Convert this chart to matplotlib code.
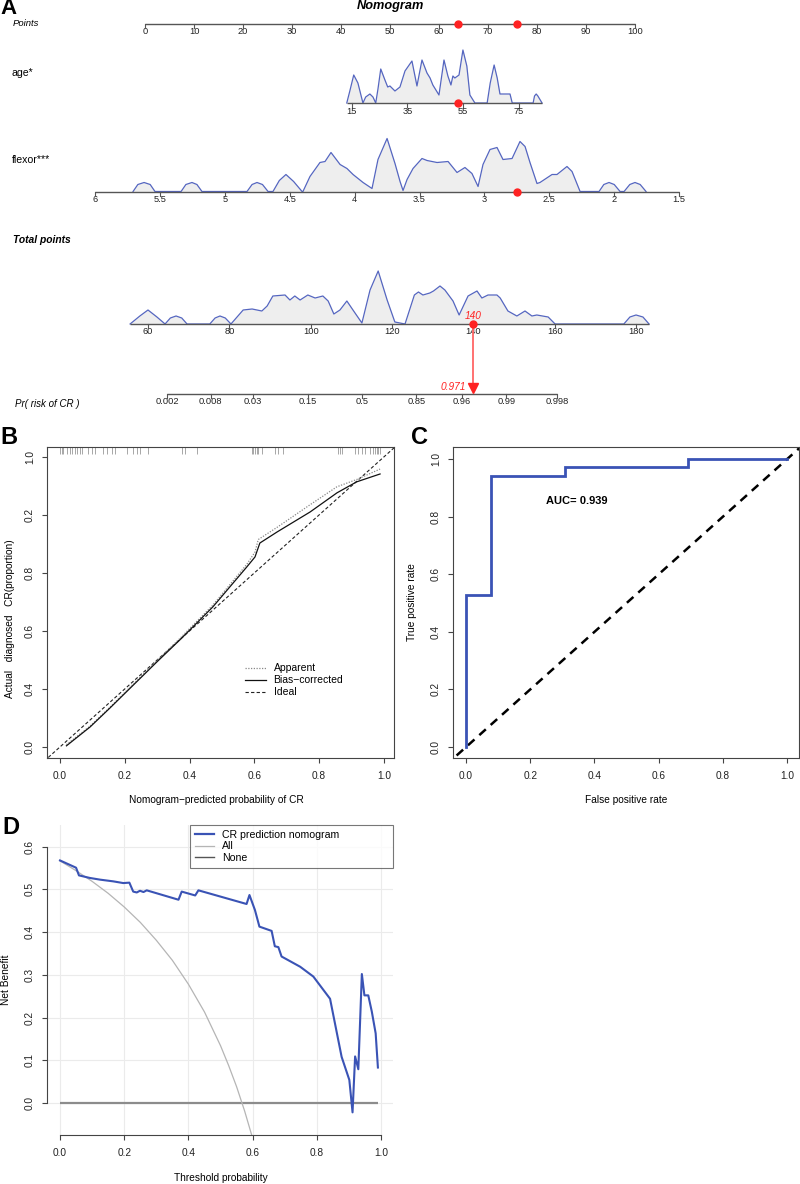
import numpy as np
import matplotlib.pyplot as plt
from matplotlib.lines import Line2D

plt.rcParams['font.family'] = ['Liberation Sans', 'DejaVu Sans']

W, H = 800, 1184

# ---------------- Panel A: nomogram data ----------------
points_ticks = list(range(0, 101, 10))
age_ticks = [15, 35, 55, 75]
flexor_ticks = [6, 5.5, 5, 4.5, 4, 3.5, 3, 2.5, 2, 1.5]
total_ticks = [60, 80, 100, 120, 140, 160, 180]
prob_ticks = [0.002, 0.008, 0.03, 0.15, 0.5, 0.85, 0.96, 0.99, 0.998]

case_age = 53
case_flexor = 2.75
case_total = 140
case_prob = 0.971

# density traces (value, relative height)
age_dens_x = [13.2, 14.3, 15.7, 17.2, 19.0, 20.0, 21.5, 22.6, 23.6, 24.4, 25.4, 26.9,
              27.9, 28.7, 30.5, 32.3, 34.1, 36.6, 38.4, 40.2, 42.0, 43.1, 44.1, 46.3,
              48.1, 49.5, 50.6, 51.3, 52.0, 53.5, 54.9, 56.3, 57.4, 59.2, 63.6, 64.7,
              66.1, 67.2, 68.2, 71.8, 72.6, 80.1, 80.6, 81.2, 81.8, 83.3]
age_dens_h = [0, 12, 28, 20, 0, 6, 9, 6, 0, 14, 34, 23,
              16, 17, 12, 16, 32, 42, 17, 43, 30, 25, 18, 8,
              43, 27, 18, 27, 25, 28, 53, 37, 8, 0, 0, 20,
              38, 25, 9, 9, 0, 0, 7, 9, 7, 0]

flexor_dens_x = [5.707, 5.67, 5.622, 5.575, 5.538,
                 5.337, 5.30, 5.253, 5.215, 5.176,
                 4.829, 4.79, 4.752, 4.71, 4.667,
                 4.629, 4.58, 4.529, 4.47, 4.405,
                 4.398, 4.344, 4.267, 4.228, 4.182, 4.112, 4.059, 4.012, 3.935, 3.866,
                 3.82, 3.75, 3.689, 3.65, 3.627, 3.596, 3.55, 3.481, 3.442, 3.365,
                 3.28, 3.211, 3.15, 3.096, 3.049, 3.011, 2.957, 2.903, 2.857, 2.787,
                 2.726, 2.687, 2.649, 2.595, 2.572, 2.479, 2.441, 2.364, 2.325, 2.263,
                 2.117, 2.08, 2.040, 2.00, 1.955,
                 1.924, 1.88, 1.840, 1.80, 1.755]
flexor_dens_h = [0, 7, 9, 7, 0,
                 0, 7, 9, 7, 0,
                 0, 7, 9, 7, 0,
                 0, 11, 17, 10, 0,
                 0, 15, 29, 30, 39, 27, 23, 17, 9, 3,
                 32, 53, 28, 10, 1, 12, 23, 33, 31, 29,
                 30, 19, 24, 18, 5, 27, 42, 44, 32, 33,
                 50, 45, 29, 8, 9, 17, 17, 25, 20, 0,
                 0, 7, 9, 7, 0,
                 0, 7, 9, 7, 0]

total_dens_x = [55.6, 58.0, 60.0, 62.2, 64.2, 65.5, 66.9, 68.3, 69.6, 75.2, 76.5, 77.7,
                79.0, 80.4, 83.4, 85.6, 88.0, 89.3, 90.7, 93.7, 94.9, 96.1, 97.4, 99.3,
                101.1, 103.0, 104.3, 105.7, 107.2, 108.9, 110.4, 112.6, 114.6, 116.6,
                118.8, 120.7, 123.2, 125.5, 126.5, 127.6, 129.3, 130.2, 131.8, 133.0,
                135.0, 136.5, 138.7, 140.9, 142.1, 143.6, 145.8, 146.6, 148.5, 150.7,
                152.7, 154.4, 155.6, 158.4, 160.1, 177.0, 178.5, 180.0, 181.7, 183.2]
total_dens_h = [0, 8, 14, 7, 0, 6, 8, 6, 0, 0, 6, 8,
                6, 0, 14, 15, 13, 18, 28, 29, 24, 28, 24, 29,
                26, 28, 23, 10, 14, 23, 14, 1, 34, 53,
                24, 2, 0, 29, 32, 29, 31, 33, 38, 34,
                23, 9, 28, 33, 26, 29, 29, 26, 13, 8,
                13, 8, 9, 7, 0, 0, 7, 9, 7, 0]

# ---------------- Panel B: calibration ----------------
calib_x_bias = [0.02, 0.093, 0.154, 0.299, 0.37, 0.472, 0.577, 0.602, 0.617, 0.67, 0.772, 0.855, 0.916, 0.988]
calib_y_bias = [0.004, 0.069, 0.134, 0.293, 0.369, 0.483, 0.621, 0.655, 0.703, 0.741, 0.81, 0.876, 0.914, 0.941]
calib_x_app = [0.02, 0.093, 0.154, 0.299, 0.37, 0.472, 0.577, 0.602, 0.612, 0.67, 0.772, 0.855, 0.916, 0.988]
calib_y_app = [0.008, 0.072, 0.137, 0.297, 0.374, 0.489, 0.63, 0.672, 0.715, 0.757, 0.835, 0.897, 0.922, 0.958]
rug_x = [0, .006, .009, .022, .031, .037, .046, .052, .062, .068, .086, .099, .108, .133,
         .145, .160, .170, .207, .225, .238, .247, .272, .377, .386, .423, .593, .596,
         .602, .608, .611, .623, .664, .673, .688, .858, .864, .870, .910, .920, .932,
         .941, .957, .966, .972, .978, .981, .988]

# ---------------- Panel C: ROC ----------------
roc_fpr = [0, 0, 0.077, 0.077, 0.308, 0.308, 0.692, 0.692, 1.0]
roc_tpr = [0, 0.529, 0.529, 0.941, 0.941, 0.971, 0.971, 1.0, 1.0]
auc = 0.939

# ---------------- Panel D: decision curve ----------------
dca_t = [0.0, 0.05, 0.059, 0.093, 0.125, 0.166, 0.197, 0.216, 0.228, 0.239, 0.249, 0.26,
         0.27, 0.369, 0.379, 0.421, 0.431, 0.581, 0.59, 0.607, 0.621, 0.659, 0.669, 0.68,
         0.69, 0.748, 0.789, 0.841, 0.877, 0.901, 0.911, 0.919, 0.929, 0.94, 0.948, 0.96,
         0.971, 0.983, 0.99]
dca_model = [0.568, 0.551, 0.533, 0.527, 0.523, 0.519, 0.515, 0.516, 0.495, 0.493, 0.497, 0.494,
             0.498, 0.476, 0.495, 0.486, 0.498, 0.466, 0.487, 0.452, 0.413, 0.403, 0.367, 0.365,
             0.343, 0.319, 0.296, 0.244, 0.108, 0.054, -0.022, 0.109, 0.079, 0.302, 0.252, 0.252,
             0.214, 0.163, 0.083]
dca_all_t = [0.0, 0.05, 0.1, 0.15, 0.2, 0.25, 0.3, 0.35, 0.4, 0.45, 0.5, 0.525, 0.55, 0.575, 0.6]
dca_all = [0.567, 0.544, 0.519, 0.491, 0.459, 0.423, 0.381, 0.334, 0.278, 0.213, 0.134, 0.088,
           0.038, -0.019, -0.083]
dca_none_t = [0.0, 0.99]
dca_none = [0.0, 0.0]

# ---------------- nomogram scale transforms (to points axis) ----------------
def age_pos(a):
    return 42.2 + (np.asarray(a, float) - 15) * 0.5685

def flexor_pos(f):
    return -10.2 + (6 - np.asarray(f, float)) * 26.49

def total_pos(t):
    return 0.61 + (np.asarray(t, float) - 60) * 0.830

def prob_pos(p):
    p = np.asarray(p, float)
    return 44.29 + np.log(p / (1 - p)) * 6.408

def fmt(v):
    return ('%g' % v)

fig = plt.figure(figsize=(W / 100, H / 100), dpi=100)

axA = fig.add_axes([0, 1 - 410 / H, 1, 410 / H])
axA.set_xlim(-145 / 4.9, (W - 145) / 4.9)
axA.set_ylim(410, 0)
axA.axis('off')

AXC = '#555555'
DENS_LINE = '#5566C0'
RED = '#FF2222'
TK = 6.7

row_y = {'points': 24, 'age': 103, 'flexor': 191.5, 'total': 324, 'prob': 394}


def scale(ax, y, vals, pos_fn, labels, lo=None, hi=None):
    xs = pos_fn(vals)
    a = xs.min() if lo is None else lo
    b = xs.max() if hi is None else hi
    ax.plot([a, b], [y, y], color=AXC, lw=1.0, solid_capstyle='butt', zorder=4)
    for x, lab in zip(xs, labels):
        ax.plot([x, x], [y, y + 4], color=AXC, lw=0.8, zorder=4)
        ax.text(x, y + 3.5, lab, ha='center', va='top', fontsize=TK, color='#222222')


def density(ax, y, xs, hs, pos_fn):
    px = pos_fn(xs)
    top = y - np.asarray(hs, float)
    ax.fill_between(px, top, y, color='#EEEEEE', lw=0, zorder=2)
    ax.plot(px, top, color=DENS_LINE, lw=0.9, zorder=3, solid_joinstyle='round')


# Points
scale(axA, row_y['points'], points_ticks, lambda v: np.asarray(v, float),
      [str(v) for v in points_ticks])
# age
density(axA, row_y['age'], age_dens_x, age_dens_h, age_pos)
scale(axA, row_y['age'], age_ticks, age_pos, [str(v) for v in age_ticks],
      lo=age_pos(min(age_dens_x)), hi=age_pos(max(age_dens_x)))
# flexor
density(axA, row_y['flexor'], flexor_dens_x, flexor_dens_h, flexor_pos)
scale(axA, row_y['flexor'], flexor_ticks, flexor_pos, [fmt(v) for v in flexor_ticks])
# total points
density(axA, row_y['total'], total_dens_x, total_dens_h, total_pos)
scale(axA, row_y['total'], total_ticks, total_pos, [str(v) for v in total_ticks],
      lo=total_pos(min(total_dens_x)), hi=total_pos(max(total_dens_x)))
# probability
scale(axA, row_y['prob'], prob_ticks, prob_pos, [fmt(v) for v in prob_ticks])

# case markers
axA.plot([age_pos(case_age), flexor_pos(case_flexor)], [row_y['points']] * 2, 'o',
         color=RED, ms=5, zorder=6)
axA.plot(age_pos(case_age), row_y['age'], 'o', color=RED, ms=5, zorder=6)
axA.plot(flexor_pos(case_flexor), row_y['flexor'], 'o', color=RED, ms=5, zorder=6)
tx = total_pos(case_total)
axA.plot([tx, tx], [row_y['total'], row_y['prob'] - 7], color='#FF6666', lw=1.3, zorder=5)
axA.plot(tx, row_y['total'], 'o', color=RED, ms=5, zorder=6)
axA.plot(tx, row_y['prob'] - 6, 'v', color=RED, ms=7, zorder=6)
axA.text(tx, row_y['total'] - 3, str(case_total), color=RED, fontsize=7.3, style='italic',
         ha='center', va='bottom', zorder=7)
axA.text(tx - 1.5, row_y['prob'] - 7, '%.3f' % case_prob, color=RED, fontsize=7.3,
         style='italic', ha='right', va='center', zorder=7)

fig.text(390 / W, 1 - 6 / H, 'Nomogram', fontsize=9.2, fontweight='bold', style='italic',
         ha='center', va='center')
fig.text(13 / W, 1 - 23 / H, 'Points', fontsize=6.8, style='italic', va='center')
fig.text(12 / W, 1 - 73 / H, 'age*', fontsize=7.6, va='center')
fig.text(12 / W, 1 - 160 / H, 'flexor***', fontsize=7.6, va='center')
fig.text(13 / W, 1 - 240 / H, 'Total points', fontsize=7.4, fontweight='bold',
         style='italic', va='center')
fig.text(15 / W, 1 - 404 / H, 'Pr( risk of CR )', fontsize=7, style='italic', va='center')

fig.text(0, 1 - 9 / H, 'A', fontsize=16, fontweight='bold', va='center', ha='left')
for lab, x, y in [('B', 0, 438), ('C', 411, 438), ('D', 2, 828)]:
    fig.text(x / W, 1 - y / H, lab, fontsize=17, fontweight='bold', va='center', ha='left')

LBL = 7.3


def r_axes(ax, box=True):
    for s in ax.spines.values():
        s.set_color('#444444')
        s.set_linewidth(0.8)
        s.set_visible(box)
    ax.tick_params(direction='out', length=3.6, width=0.8, color='#444444',
                   labelsize=LBL, labelcolor='#222222')
    ax.tick_params(axis='x', pad=6)
    ax.tick_params(axis='y', pad=5)


# ---------------- Panel B ----------------
axB = fig.add_axes([47 / W, 426 / H, 347 / W, 311 / H])
axB.set_xlim(-0.040, 1.031)
axB.set_ylim(-0.038, 1.034)
r_axes(axB)
axB.set_xticks(np.arange(0, 1.01, 0.2))
axB.set_xticklabels(['0.0', '0.2', '0.4', '0.6', '0.8', '1.0'])
axB.set_yticks(np.arange(0, 1.01, 0.2))
axB.set_yticklabels(['0.0', '0.4', '0.6', '0.8', '0.2', '1.0'], rotation=90, va='center')
axB.plot([-0.1, 1.1], [-0.1, 1.1], color='#222222', lw=0.8, ls=(0, (3, 2)), label='Ideal')
axB.plot(calib_x_app, calib_y_app, color='#888888', lw=0.9, ls=(0, (1, 1.2)), label='Apparent')
axB.plot(calib_x_bias, calib_y_bias, color='#111111', lw=0.9, label='Bias\u2212corrected')
axB.vlines(rug_x, 1.01, 1.034, color='#999999', lw=0.6)
hB = [Line2D([], [], color='#888888', lw=0.9, ls=(0, (1, 1.2))),
      Line2D([], [], color='#111111', lw=0.9),
      Line2D([], [], color='#222222', lw=0.8, ls=(0, (3, 2)))]
axB.legend(hB, ['Apparent', 'Bias\u2212corrected', 'Ideal'], loc='upper left',
           bbox_to_anchor=(0.545, 0.335), frameon=False, fontsize=7.5,
           handlelength=2.0, handletextpad=0.7, labelspacing=0.2)
axB.text(0.487, (758 - 800) / 311, 'Nomogram\u2212predicted probability of CR',
         transform=axB.transAxes, ha='center', va='center', fontsize=LBL)
axB.text((10 - 47) / 347, 0.447, 'Actual   diagnosed   CR(proportion)',
         transform=axB.transAxes, ha='center', va='center', rotation=90, fontsize=LBL)

# ---------------- Panel C ----------------
axC = fig.add_axes([453 / W, 426 / H, 346 / W, 311 / H])
axC.set_xlim(-0.0405, 1.037)
axC.set_ylim(-0.038, 1.042)
r_axes(axC)
axC.set_xticks(np.arange(0, 1.01, 0.2))
axC.set_xticklabels(['0.0', '0.2', '0.4', '0.6', '0.8', '1.0'])
axC.set_yticks(np.arange(0, 1.01, 0.2))
axC.set_yticklabels(['0.0', '0.2', '0.4', '0.6', '0.8', '1.0'], rotation=90, va='center')
axC.plot([-0.1, 1.1], [-0.1, 1.1], color='black', lw=1.8, ls=(0, (3.5, 2.6)))
axC.plot(roc_fpr, roc_tpr, color='#3A53B5', lw=2.0, solid_joinstyle='miter')
axC.text(0.25, 0.854, 'AUC= %.3f' % auc, fontsize=8, fontweight='bold', ha='left', va='center')
axC.text(0.5, (758 - 800) / 311, 'False positive rate', transform=axC.transAxes,
         ha='center', va='center', fontsize=LBL)
axC.text((412 - 453) / 346, 0.5, 'True positive rate', transform=axC.transAxes,
         ha='center', va='center', rotation=90, fontsize=LBL)

# ---------------- Panel D ----------------
axD = fig.add_axes([47 / W, 49 / H, 346 / W, 310 / H])
axD.set_xlim(-0.0405, 1.037)
axD.set_ylim(-0.075, 0.651)
r_axes(axD, box=False)
axD.spines['left'].set_visible(True)
axD.spines['bottom'].set_visible(True)
axD.spines['left'].set_bounds(0, 0.6)
axD.spines['bottom'].set_bounds(0, 1)
axD.set_xticks(np.arange(0, 1.01, 0.2))
axD.set_xticklabels(['0.0', '0.2', '0.4', '0.6', '0.8', '1.0'])
axD.set_yticks(np.arange(0, 0.61, 0.1))
axD.set_yticklabels(['0.0', '0.1', '0.2', '0.3', '0.4', '0.5', '0.6'], rotation=90, va='center')
axD.grid(True, color='#EBEBEB', lw=0.8)
axD.set_axisbelow(True)
axD.plot(dca_none_t, dca_none, color='#8C8C8C', lw=1.6, solid_capstyle='butt')
axD.plot(dca_all_t, dca_all, color='#B5B5B5', lw=0.9)
axD.plot(dca_t, dca_model, color='#3A53B5', lw=1.5)
hD = [Line2D([], [], color='#3A53B5', lw=1.6),
      Line2D([], [], color='#B5B5B5', lw=0.9),
      Line2D([], [], color='#555555', lw=1.0)]
legD = axD.legend(hD, ['CR prediction nomogram', 'All', 'None'], loc='upper left',
                  bbox_to_anchor=(0.413, 0.845, 0.587, 0.155), mode='expand',
                  borderaxespad=0, fancybox=False, edgecolor='#555555', fontsize=7.6,
                  handlelength=1.8, handletextpad=0.8, labelspacing=0.15, borderpad=0.45)
legD.get_frame().set_linewidth(0.8)
axD.text(0.503, (1135 - 1178) / 310, 'Threshold probability', transform=axD.transAxes,
         ha='center', va='center', fontsize=LBL)
axD.text((6 - 47) / 346, 0.5, 'Net Benefit', transform=axD.transAxes,
         ha='center', va='center', rotation=90, fontsize=LBL)

fig.savefig('out.png', dpi=100, facecolor='white')
